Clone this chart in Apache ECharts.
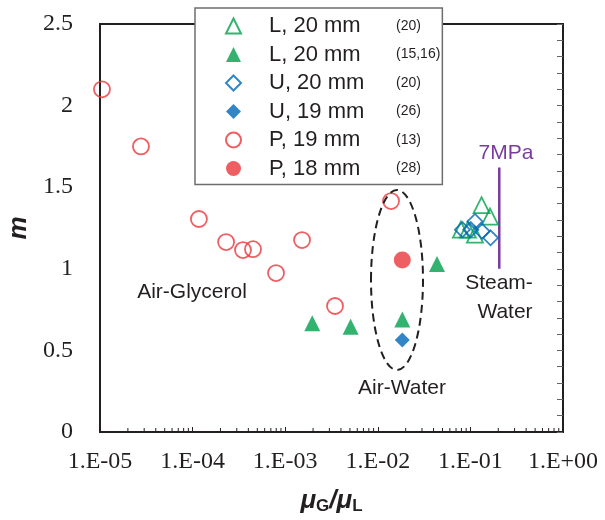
<!DOCTYPE html>
<html>
<head>
<meta charset="utf-8">
<script src="https://cdn.jsdelivr.net/npm/echarts@6/dist/echarts.min.js"></script>
<style>
  html, body { margin: 0; padding: 0; background: #fff; }
  #chart { width: 605px; height: 520px; }
</style>
</head>
<body>
<div id="chart"></div>
<script>
// legend text and reference numbers
const seriesLabels = ['L, 20 mm', 'L, 20 mm', 'U, 20 mm', 'U, 19 mm', 'P, 19 mm', 'P, 18 mm']
const seriesRefs = ['(20)', '(15,16)', '(20)', '(26)', '(13)', '(28)']

// viscosity ratio muG/muL and exponent m
const lOpenX = [0.132, 0.163, 0.079, 0.112, 0.094]
const lOpenM = [1.39, 1.32, 1.24, 1.21, 1.24]
const lFillX = [0.00196, 0.00509, 0.0184, 0.0436]
const lFillM = [0.666, 0.645, 0.69, 1.03]
const uOpenX = [0.112, 0.082, 0.101, 0.134, 0.165]
const uOpenM = [1.29, 1.24, 1.24, 1.23, 1.19]
const uFillX = [0.0184]
const uFillM = [0.564]
const pOpenX = [1.05e-5, 2.77e-5, 1.17e-4, 2.30e-4, 3.5e-4, 4.49e-4, 7.96e-4, 1.52e-3, 3.45e-3, 1.39e-2]
const pOpenM = [2.10, 1.75, 1.305, 1.164, 1.115, 1.12, 0.974, 1.176, 0.772, 1.415]
const pFillX = [0.0184]
const pFillM = [1.054]

// 7 MPa steam-water line
const mpaX = [0.205, 0.205]
const mpaM = [1.0, 1.62]

const xMin = 1e-5
const xMax = 1

const green = '#00a04b'
const blue = '#0068b7'
const red = '#e8373c'
const purple = '#7a3c9c'
const ink = '#231f20'

const pairs = (xs, ys) => xs.map((x, i) => [x, ys[i]])

// minor ticks 2..9 of each decade on the log axis
const minorTicks = []
for (let e = Math.log10(xMin); e < Math.log10(xMax); e++) {
    for (let k = 2; k <= 9; k++) minorTicks.push([k * Math.pow(10, e), 0])
}

const names = seriesLabels.map((s, i) => s + ' ' + seriesRefs[i])

function scatter(i, xs, ys, symbol, color, open, size) {
    return {
        name: names[i],
        type: 'scatter',
        symbol: symbol,
        symbolSize: size,
        data: pairs(xs, ys),
        itemStyle: open
            ? { color: 'rgba(255,255,255,0)', borderColor: color, borderWidth: 1.8 }
            : { color: color },
        z: 3 + i
    }
}

const chart = echarts.init(document.getElementById('chart'))

const option = {
    animation: false,
    grid: {
        left: 100, right: 42, top: 24, bottom: 88,
        outerBoundsMode: 'none',
        containLabel: false,
        show: true, borderColor: ink, borderWidth: 2
    },
    legend: {
        data: names,
        orient: 'vertical',
        left: 195, top: 8,
        padding: [7, 2, 5, 30],
        itemWidth: 15, itemHeight: 15,
        itemGap: 6.5,
        backgroundColor: '#fff',
        borderColor: '#6d6d6d',
        borderWidth: 1.5,
        selectedMode: false,
        formatter: name => {
            const i = names.indexOf(name)
            return '{s|}{a|' + seriesLabels[i] + '}{b|' + seriesRefs[i] + '}'
        },
        textStyle: {
            rich: {
                s: { width: 23 },
                a: { fontFamily: 'Liberation Sans', fontSize: 22, color: ink, width: 127, lineHeight: 22 },
                b: { fontFamily: 'Liberation Sans', fontSize: 14, color: ink, lineHeight: 22 }
            }
        }
    },
    xAxis: {
        type: 'log',
        logBase: 10,
        min: xMin, max: xMax,
        splitNumber: 5,
        name: '{mu|μ}{sub|G}{mu|/μ}{sub|L}',
        nameLocation: 'middle',
        nameGap: 54,
        nameTextStyle: {
            rich: {
                mu: { fontFamily: 'Liberation Sans', fontSize: 26, fontWeight: 'bold', fontStyle: 'italic', color: ink },
                sub: { fontFamily: 'Liberation Sans', fontSize: 17, fontWeight: 'bold', color: ink, padding: [12, 0, 0, 0] }
            }
        },
        axisLine: { show: false },
        axisTick: { show: true, inside: true, length: 5, lineStyle: { color: ink } },
        splitLine: { show: false },
        axisLabel: {
            margin: 18,
            fontFamily: 'Liberation Serif',
            fontSize: 24,
            color: ink,
            formatter: v => {
                const e = Math.round(Math.log10(v))
                return '1.E' + (e < 0 ? '-' : '+') + String(Math.abs(e)).padStart(2, '0')
            }
        }
    },
    yAxis: [
        {
            type: 'value',
            min: 0, max: 2.5, interval: 0.5,
            name: 'm',
            nameLocation: 'middle',
            nameGap: 54,
            nameRotate: 90,
            nameTextStyle: {
                fontFamily: 'Liberation Sans', fontSize: 26, fontWeight: 'bold', fontStyle: 'italic', color: ink
            },
            axisLine: { show: false },
            axisTick: { show: false },
            splitLine: { show: false },
            axisLabel: {
                margin: 27,
                fontFamily: 'Liberation Serif',
                fontSize: 24,
                color: ink
            }
        },
        {
            type: 'value',
            position: 'right',
            min: 0, max: 2.5, interval: 0.1,
            axisLine: { show: false },
            axisTick: { show: true, inside: true, length: 6, lineStyle: { color: '#666' } },
            axisLabel: { show: false },
            splitLine: { show: false }
        }
    ],
    series: [
        {
            type: 'custom',
            silent: true,
            data: minorTicks,
            renderItem: (params, api) => {
                const p = api.coord([api.value(0), 0])
                return {
                    type: 'line',
                    shape: { x1: p[0], y1: p[1], x2: p[0], y2: p[1] - 4 },
                    style: { stroke: ink, lineWidth: 1 }
                }
            },
            z: 1
        },
        {
            type: 'line',
            silent: true,
            data: pairs(mpaX, mpaM),
            symbol: 'none',
            lineStyle: { color: purple, width: 2.5 },
            z: 2
        },
        scatter(0, lOpenX, lOpenM, 'triangle', green, true, 16),
        scatter(1, lFillX, lFillM, 'triangle', green, false, 16),
        scatter(2, uOpenX, uOpenM, 'diamond', blue, true, 15),
        scatter(3, uFillX, uFillM, 'diamond', blue, false, 15),
        scatter(4, pOpenX, pOpenM, 'circle', red, true, 16),
        scatter(5, pFillX, pFillM, 'circle', red, false, 17)
    ],
    graphic: [
        {
            type: 'ellipse',
            shape: { cx: 397, cy: 280, rx: 26, ry: 90 },
            style: { fill: 'none', stroke: ink, lineWidth: 2, lineDash: [8, 5] },
            z: 10
        },
        {
            type: 'text', x: 192, y: 292,
            style: { text: 'Air-Glycerol', font: '21px "Liberation Sans"', fill: ink, align: 'center', verticalAlign: 'middle' }
        },
        {
            type: 'text', x: 402, y: 388,
            style: { text: 'Air-Water', font: '21px "Liberation Sans"', fill: ink, align: 'center', verticalAlign: 'middle' }
        },
        {
            type: 'text', x: 499, y: 283,
            style: { text: 'Steam-', font: '21px "Liberation Sans"', fill: ink, align: 'center', verticalAlign: 'middle' }
        },
        {
            type: 'text', x: 505, y: 312,
            style: { text: 'Water', font: '21px "Liberation Sans"', fill: ink, align: 'center', verticalAlign: 'middle' }
        },
        {
            type: 'text', x: 506, y: 153,
            style: { text: '7MPa', font: '21px "Liberation Sans"', fill: purple, align: 'center', verticalAlign: 'middle' }
        }
    ]
}

chart.setOption(option)
</script>
</body>
</html>
